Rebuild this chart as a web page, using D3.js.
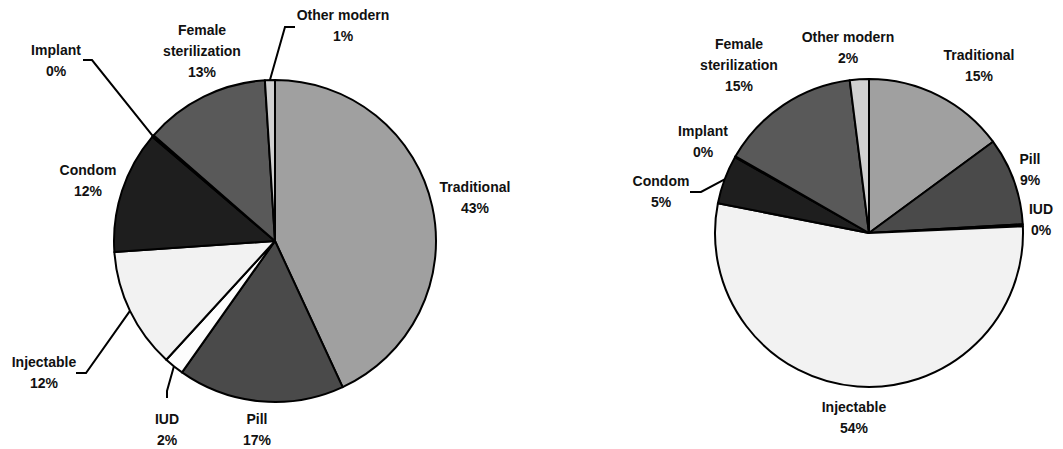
<!DOCTYPE html>
<html>
<head>
<meta charset="utf-8">
<script src="https://cdn.jsdelivr.net/npm/d3@7"></script>
<style>
  body { margin: 0; background: #fff; }
  text { font-family: Arial, "Liberation Sans", sans-serif; font-weight: bold; font-size: 14px; fill: #111; }
</style>
</head>
<body>
<script>
// Categories, in clockwise order starting at 12 o'clock
let categories = ["Traditional", "Pill", "IUD", "Injectable", "Condom", "Implant", "Female sterilization", "Other modern"];

// Series values (percent)
let valuesLeft  = [43.1, 16.7, 2.0, 12.1, 12.3, 0.2, 12.6, 1.0];
let valuesRight = [14.9, 9.2, 0.2, 53.8, 5.1, 0.1, 14.7, 2.0];

// Printed percent labels
let labelsLeft  = ["43%", "17%", "2%", "12%", "12%", "0%", "13%", "1%"];
let labelsRight = ["15%", "9%", "0%", "54%", "5%", "0%", "15%", "2%"];

// Fill colours per category
let colour = d3.scaleOrdinal()
    .domain(categories)
    .range(["#a0a0a0", "#4a4a4a", "#fdfdfd", "#f2f2f2", "#1e1e1e", "#888888", "#595959", "#d0d0d0"]);

let width = 1063, height = 449;

let svg = d3.select("body")
    .append("svg")
        .attr("width", width)
        .attr("height", height);

// Layout of the two pies: centre, radius, label spots and leader elbows
let charts = [
    {values: valuesLeft, labels: labelsLeft, cx: 275, cy: 241, r: 161,
     pos: [[475, 187], [257, 419], [167, 419], [44, 362], [88, 170], [56, 50], [202, 30], [343, 15]],
     leaders: {
        "IUD": [[167, 391], [167, 398]],
        "Injectable": [[86, 373], [76, 373]],
        "Implant": [[92, 60], [83, 60]],
        "Other modern": [[285, 27], [295, 27]]
     }},
    {values: valuesRight, labels: labelsRight, cx: 869, cy: 233, r: 154,
     pos: [[979, 55], [1030, 159], [1041, 209], [854, 407], [661, 181], [703, 131], [739, 44], [848, 37]],
     leaders: {
        "Condom": [[701, 192], [690, 192]]
     }}
];

let pie = d3.pie().sort(null).value(function(d) { return d.value; });

charts.forEach(function(c) {
    let data = categories.map(function(name, i) {
        return {name: name, value: c.values[i], label: c.labels[i], pos: c.pos[i]};
    });
    let arcs = pie(data);
    let arc = d3.arc().innerRadius(0).outerRadius(c.r);

    let g = svg.append("g")
        .attr("transform", "translate(" + c.cx + "," + c.cy + ")");

    g.selectAll("path.slice")
        .data(arcs)
        .enter().append("path")
            .attr("class", "slice")
            .attr("d", arc)
            .attr("fill", function(d) { return colour(d.data.name); })
            .attr("stroke", "#000")
            .attr("stroke-width", 2)
            .attr("stroke-linejoin", "round");

    // leader lines from slice edge to label
    arcs.forEach(function(d) {
        let pts = c.leaders[d.data.name];
        if (!pts) return;
        let a = (d.startAngle + d.endAngle) / 2;
        let start = [c.cx + c.r * Math.sin(a), c.cy - c.r * Math.cos(a)];
        svg.append("path")
            .attr("d", d3.line()([start].concat(pts)))
            .attr("fill", "none")
            .attr("stroke", "#000")
            .attr("stroke-width", 2);
    });

    // labels: name (wrapped) and percent
    arcs.forEach(function(d) {
        let t = svg.append("text")
            .attr("x", d.data.pos[0])
            .attr("y", d.data.pos[1])
            .style("text-anchor", "middle");
        let lines = d.data.name.length > 13 ? d.data.name.split(" ") : [d.data.name];
        lines.push(d.data.label);
        lines.forEach(function(line, i) {
            t.append("tspan")
                .attr("x", d.data.pos[0])
                .attr("y", d.data.pos[1] + i * 21)
                .attr("dy", "0.35em")
                .text(line);
        });
    });
});
</script>
</body>
</html>
